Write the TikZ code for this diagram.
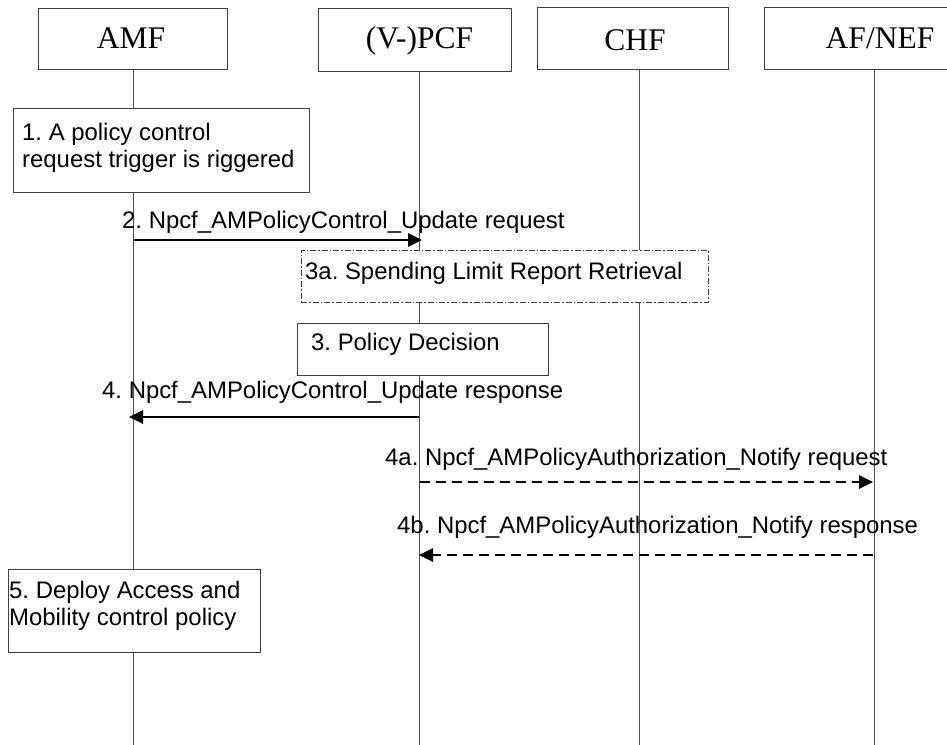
\documentclass[tikz,border=0pt]{standalone}
\usepackage{fontspec}
\setmainfont{Liberation Serif}
\newfontfamily\arialf{Liberation Sans}
\usetikzlibrary{arrows.meta}
\frenchspacing
\tikzset{
  x=1pt, y=-1pt,
  hdr/.style={draw=black!75, line width=1pt, fill=white, rectangle, inner sep=0pt},
  hdrtxt/.style={font=\fontsize{31.5}{34}\selectfont, inner sep=0pt, anchor=base},
  life/.style={draw=black!70, line width=1pt},
  stepbox/.style={draw=black!75, line width=1pt, fill=white, rectangle, inner sep=0pt},
  optbox/.style={stepbox, dash pattern=on 6pt off 2pt on 1.5pt off 2pt},
  lbl/.style={font=\arialf\frenchspacing\fontsize{23.9}{27.5}\selectfont, inner sep=0pt, anchor=base west},
  mlbl/.style={font=\arialf\frenchspacing\fontsize{23.9}{27.5}\selectfont, inner sep=0pt, anchor=north west, align=left},
  msg/.style={line width=2.6pt, -{Triangle[length=14pt,width=13pt]}},
  dmsg/.style={msg, dash pattern=on 10pt off 6pt}
}
\begin{document}
\begin{tikzpicture}
\clip (0,0) rectangle (947,744);
\fill[white] (0,0) rectangle (947,744);
% headers
\node[hdr, minimum width=189pt, minimum height=61pt] (hAMF) at (132.5,38.5) {};
\node[hdr, minimum width=193pt, minimum height=63pt] (hPCF) at (414.5,39.5) {};
\node[hdr, minimum width=191pt, minimum height=62pt] (hCHF) at (632.5,38) {};
\node[hdr, minimum width=236pt, minimum height=62pt] (hAF) at (882,38) {};
\node[hdrtxt] (tAMF) at (131,48) {AMF};
\node[hdrtxt] (tPCF) at (419.5,48) {(V-)PCF};
\node[hdrtxt] (tCHF) at (635,50) {CHF};
\node[hdrtxt] (tAF) at (880,48) {AF/NEF};
% lifelines
\coordinate (eAMF) at (133,745);
\coordinate (ePCF) at (419,745);
\coordinate (eCHF) at (639,745);
\coordinate (eAF) at (874,745);
\draw[life] (hAMF.south -| eAMF) -- (eAMF);
\draw[life] (hPCF.south -| ePCF) -- (ePCF);
\draw[life] (hCHF.south -| eCHF) -- (eCHF);
\draw[life] (hAF.south -| eAF) -- (eAF);
% step 1
\node[stepbox, minimum width=296pt, minimum height=84pt] (b1) at (161,150) {};
\node[mlbl] (t1) at (22,122.8) {1. A policy control\\request trigger is riggered};
% step 2
\coordinate (m2a) at (134,240);
\coordinate (m2b) at (422,240);
\draw[msg] (m2a) -- (m2b);
\node[lbl] (l2) at (122,228) {2. Npcf\_AMPolicyControl\_Update request};
% step 3a
\node[optbox, minimum width=407pt, minimum height=52pt] (b3a) at (504.5,276) {};
\node[lbl] (t3a) at (305,279) {3a. Spending Limit Report Retrieval};
% step 3
\node[stepbox, minimum width=251pt, minimum height=52pt] (b3) at (422.5,349) {};
\node[lbl] (t3) at (311,350) {3. Policy Decision};
% step 4
\coordinate (m4a) at (419,417);
\coordinate (m4b) at (129,417);
\draw[msg] (m4a) -- (m4b);
\node[lbl] (l4) at (102,398) {4. Npcf\_AMPolicyControl\_Update response};
% step 4a
\coordinate (m4aa) at (420,482);
\coordinate (m4ab) at (873,482);
\draw[dmsg] (m4aa) -- (m4ab);
\node[lbl] (l4a) at (385,465) {4a. Npcf\_AMPolicyAuthorization\_Notify request};
% step 4b
\coordinate (m4ba) at (873,555);
\coordinate (m4bb) at (419,555);
\draw[dmsg] (m4ba) -- (m4bb);
\node[lbl] (l4b) at (397,533) {4b. Npcf\_AMPolicyAuthorization\_Notify response};
% step 5
\node[stepbox, minimum width=252pt, minimum height=83pt] (b5) at (134,610.5) {};
\node[mlbl] (t5) at (9,580.8) {5. Deploy Access and\\Mobility control policy};
\end{tikzpicture}
\end{document}
